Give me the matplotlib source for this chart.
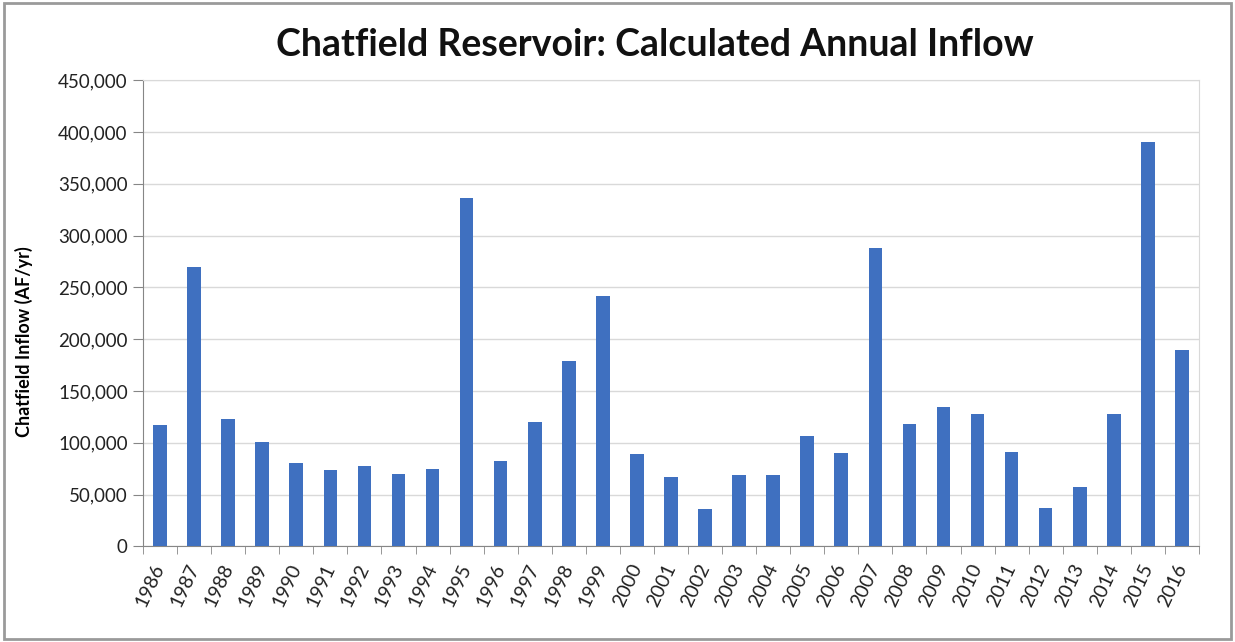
import numpy as np
import matplotlib.pyplot as plt
from matplotlib.patches import Rectangle
from matplotlib.ticker import FuncFormatter

plt.rcParams['font.family'] = ['Lato', 'DejaVu Sans']

# annual inflow, acre-feet per year
years = [str(y) for y in range(1986, 2017)]
inflow = [117000, 270000, 123000, 101000, 80000, 74000, 78000, 70000, 75000, 336000,
          82000, 120000, 179000, 242000, 89000, 67000, 36000, 69000, 69000, 107000,
          90000, 288000, 118000, 135000, 128000, 91000, 37000, 57000, 128000, 390000,
          190000]

fig = plt.figure(figsize=(12.35, 6.42), dpi=100)
ax = fig.add_axes([0.1158, 0.149, 0.855, 0.726])

x = np.arange(len(years))
ax.bar(x, inflow, width=0.4, color='#3F70C0', zorder=3)

ax.set_xlim(-0.5, len(years) - 0.5)
ax.set_ylim(0, 450000)
ax.set_yticks(np.arange(0, 450001, 50000))
ax.yaxis.set_major_formatter(FuncFormatter(lambda v, p: f"{int(v):,}"))
ax.grid(axis='y', color='#d9d9d9', linewidth=1, zorder=0)

# ticks sit between categories, labels centred on bars
ax.set_xticks(x)
ax.set_xticklabels(years, rotation=65, ha='right', va='center', rotation_mode='anchor')
ax.set_xticks(np.arange(-0.5, len(years), 1), minor=True)
ax.tick_params(axis='x', which='major', length=0, pad=13, labelsize=14, labelcolor='#222222')
ax.tick_params(axis='x', which='minor', length=6, color='#868686')
ax.tick_params(axis='y', length=7, color='#868686', labelsize=13.5, labelcolor='#222222', pad=4)

for side in ['left', 'bottom']:
    ax.spines[side].set_color('#868686')
ax.spines['top'].set_color('#d9d9d9')
ax.spines['right'].set_color('#d9d9d9')

ax.set_ylabel("Chatfield Inflow (AF/yr)", fontsize=13, fontweight='bold')
ax.yaxis.set_label_coords(-0.104, 0.44)
fig.text(0.53, 0.93, "Chatfield Reservoir: Calculated Annual Inflow", ha='center', va='center',
         fontsize=27, fontweight='bold', color='#111111')

# outer chart frame
fig.patches.append(Rectangle((0.003, 0.005), 0.994, 0.99, transform=fig.transFigure,
                             fill=False, edgecolor='#9a9a9a', linewidth=2))

fig.savefig("out.png", dpi=100)
